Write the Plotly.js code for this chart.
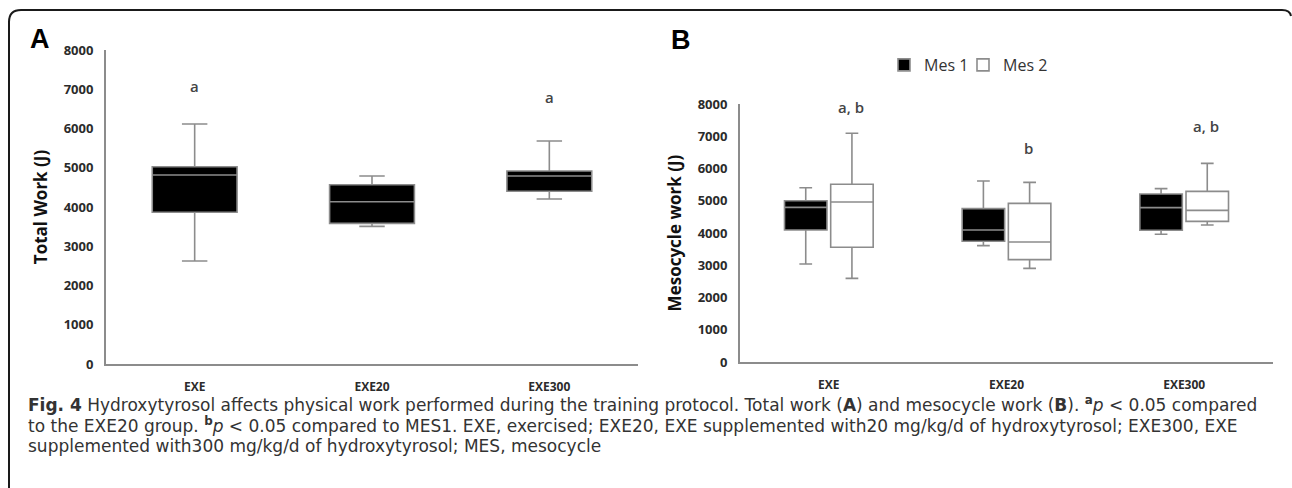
<!DOCTYPE html>
<html>
<head>
<meta charset="utf-8">
<script src="https://cdn.plot.ly/plotly-3.0.1.min.js"></script>
<style>html,body{margin:0;padding:0;background:#fff;}#chart{width:1292px;height:488px;}</style>
</head>
<body>
<div id="chart"></div>
<script>
// ---- data ----
const categories = ['EXE', 'EXE20', 'EXE300'];

// Panel A: total work (J)
const totalLow    = [2624, 3507, 4204];
const totalQ1     = [3865, 3584, 4400];
const totalMedian = [4815, 4135, 4790];
const totalQ3     = [5027, 4568, 4917];
const totalHigh   = [6115, 4790, 5682];

// Panel B: mesocycle work (J)
const seriesNames = ['Mes 1', 'Mes 2'];
const mes1Low    = [3039, 3607, 3959];
const mes1Q1     = [4093, 3742, 4083];
const mes1Median = [4796, 4093, 4786];
const mes1Q3     = [5002, 4755, 5209];
const mes1High   = [5405, 5612, 5375];

const mes2Low    = [2594, 2904, 4248];
const mes2Q1     = [3556, 3173, 4362];
const mes2Median = [4961, 3721, 4703];
const mes2Q3     = [5510, 4920, 5292];
const mes2High   = [7091, 5571, 6160];

// significance labels and their heights (J)
const sigALabels = ['a', '', 'a'];
const sigAHeights = [7080, null, 6810];
const sigBLabels = ['a, b', 'b', 'a, b'];
const sigBHeights = [7910, 6640, 7320];

const yTicks = [0, 1000, 2000, 3000, 4000, 5000, 6000, 7000, 8000];

const captionLines = [
  '<b>Fig. 4</b> Hydroxytyrosol affects physical work performed during the training protocol. Total work (<b>A</b>) and mesocycle work (<b>B</b>). <sup><b>a</b></sup><i>p</i> &lt; 0.05 compared',
  'to the EXE20 group. <sup><b>b</b></sup><i>p</i> &lt; 0.05 compared to MES1. EXE, exercised; EXE20, EXE supplemented with20 mg/kg/d of hydroxytyrosol; EXE300, EXE',
  'supplemented with300 mg/kg/d of hydroxytyrosol; MES, mesocycle'
];

// ---- helpers ----
const W = 1292, H = 488;
const px = v => v / W;
const py = v => 1 - v / H;
const lineGray = '#8c8c8c';
const tickFont = {family: 'Open Sans', size: 13, color: '#2b2b2b', weight: 700};

function boxTrace(name, xa, ya, low, q1, med, q3, high, fill, show, og, ag, lg) {
  return {
    type: 'box', name: name, x: categories,
    lowerfence: low, q1: q1, median: med, q3: q3, upperfence: high,
    xaxis: xa, yaxis: ya, fillcolor: fill,
    line: {color: lineGray, width: 1.6},
    whiskerwidth: 0.3, boxpoints: false, showlegend: show,
    offsetgroup: og, alignmentgroup: ag, legend: lg
  };
}

const traces = [
  boxTrace('Total', 'x', 'y', totalLow, totalQ1, totalMedian, totalQ3, totalHigh, '#000000', false, 'tA', 'A', 'legend'),
  boxTrace(seriesNames[0], 'x2', 'y2', mes1Low, mes1Q1, mes1Median, mes1Q3, mes1High, '#000000', true, 'm1', 'B', 'legend'),
  boxTrace(seriesNames[1], 'x2', 'y2', mes2Low, mes2Q1, mes2Median, mes2Q3, mes2High, '#ffffff', true, 'm2', 'B', 'legend2')
];

const annotations = [];
categories.forEach((c, i) => {
  if (sigALabels[i]) annotations.push({
    xref: 'x', yref: 'y', x: c, y: sigAHeights[i], text: sigALabels[i], showarrow: false,
    xanchor: 'center', yanchor: 'middle',
    font: {family: 'Open Sans', size: 15, color: '#444', weight: 600}
  });
  annotations.push({
    xref: 'x2', yref: 'y2', x: c, y: sigBHeights[i], text: sigBLabels[i], showarrow: false,
    xanchor: 'center', yanchor: 'middle',
    xshift: 22, font: {family: 'Open Sans', size: 15, color: '#444', weight: 600}
  });
});
annotations.push({xref: 'paper', yref: 'paper', x: px(40), y: py(39), xanchor: 'center', yanchor: 'middle',
  text: '<b>A</b>', showarrow: false, font: {family: 'Liberation Sans', size: 27, color: '#000'}});
annotations.push({xref: 'paper', yref: 'paper', x: px(681), y: py(40), xanchor: 'center', yanchor: 'middle',
  text: '<b>B</b>', showarrow: false, font: {family: 'Liberation Sans', size: 27, color: '#000'}});
const capY = [404, 425, 446];
captionLines.forEach((t, i) => annotations.push({
  xref: 'paper', yref: 'paper', x: px(26), y: py(capY[i]), xanchor: 'left', yanchor: 'middle',
  text: t, showarrow: false, font: {family: 'DejaVu Sans', size: 17, color: '#333'}
}));

function yAxis(domain, anchor, title) {
  return {
    domain: domain, anchor: anchor, range: [0, 8000], tickvals: yTicks,
    showline: true, linecolor: lineGray, linewidth: 2, ticks: '', showgrid: false, zeroline: false,
    tickfont: tickFont, ticklabelstandoff: 8,
    title: {text: title, standoff: 12, font: {family: 'Open Sans', size: 17, color: '#111', weight: 700}}
  };
}
function xAxis(domain, anchor) {
  return {
    domain: domain, anchor: anchor, type: 'category', showline: true, linecolor: lineGray, linewidth: 2,
    ticks: '', showgrid: false, zeroline: false, tickfont: {family: 'Open Sans', size: 12, color: '#2b2b2b', weight: 700},
    ticklabelstandoff: 11
  };
}

const legendStyle = (x) => ({
  orientation: 'h', x: px(x), y: py(65), xanchor: 'left', yanchor: 'middle',
  font: {family: 'Open Sans', size: 16, color: '#333'}, bgcolor: 'rgba(0,0,0,0)', itemwidth: 30
});

const layout = {
  width: W, height: H, margin: {l: 0, r: 0, t: 0, b: 0},
  paper_bgcolor: '#fff', plot_bgcolor: 'rgba(0,0,0,0)',
  boxmode: 'group', boxgap: 0.48, boxgroupgap: 0.08,
  xaxis: xAxis([px(106), px(638)], 'y'),
  yaxis: yAxis([1 - 364 / H, 1 - 50 / H], 'x', 'Total Work (J)'),
  xaxis2: xAxis([px(740), px(1273)], 'y2'),
  yaxis2: yAxis([1 - 362 / H, 1 - 104 / H], 'x2', 'Mesocycle work (J)'),
  showlegend: true,
  legend: legendStyle(884),
  legend2: legendStyle(963),
  annotations: annotations,
  shapes: [{
    type: 'path', xref: 'paper', yref: 'paper', layer: 'above',
    path: 'M ' + px(9) + ',' + py(490) + ' L ' + px(9) + ',' + py(22) +
          ' Q ' + px(9) + ',' + py(10) + ' ' + px(21) + ',' + py(10) +
          ' L ' + px(1282) + ',' + py(10) +
          ' Q ' + px(1290) + ',' + py(10) + ' ' + px(1291) + ',' + py(16),
    line: {color: '#1a1a1a', width: 2}
  }]
};

Plotly.newPlot('chart', traces, layout, {staticPlot: true, displayModeBar: false});
</script>
</body>
</html>
